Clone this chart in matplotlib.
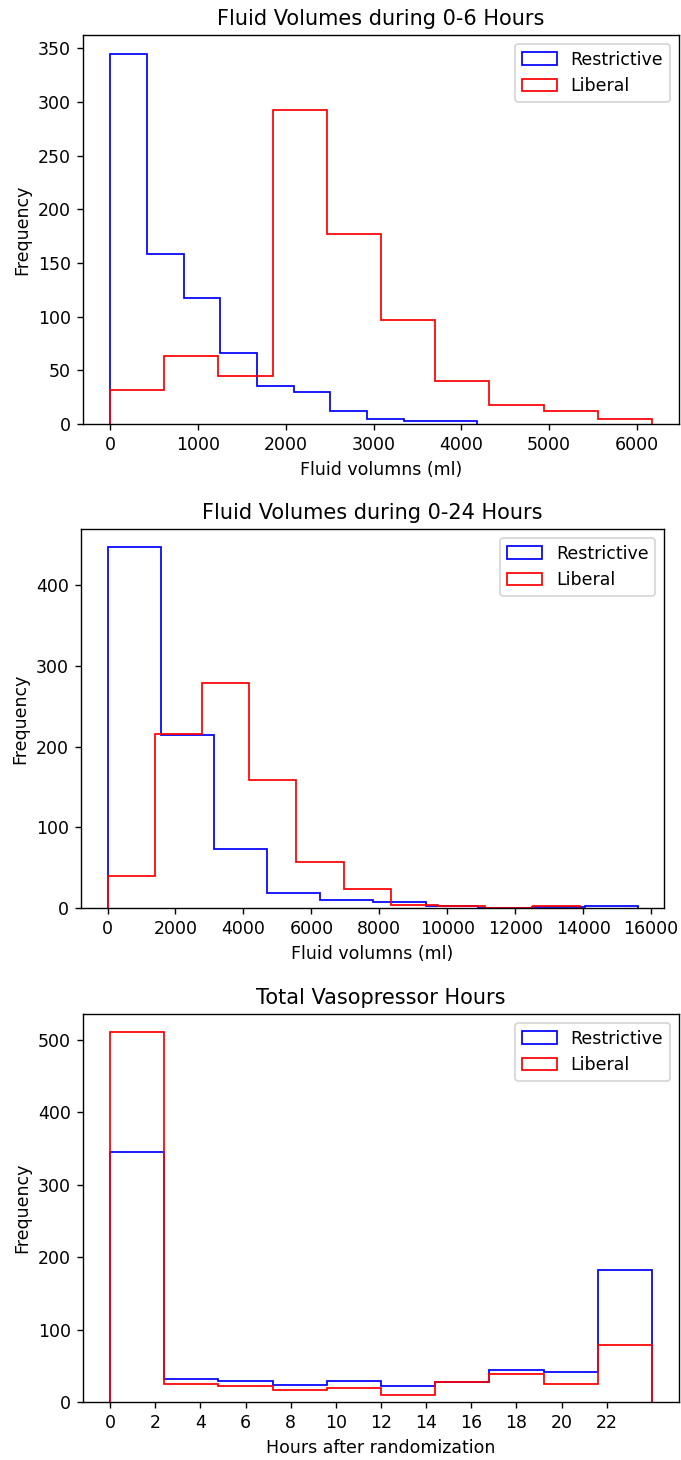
#!/usr/bin/env python

import matplotlib
matplotlib.use("Agg")
import matplotlib.pyplot as plt

# 0-6 hours
edges_6h_restrictive = [0, 418, 836, 1254, 1672, 2090, 2508, 2926, 3344, 3762, 4180]
counts_6h_restrictive = [345, 158, 117, 66, 35, 30, 12, 5, 3, 3]
edges_6h_liberal = [0, 617, 1234, 1851, 2468, 3085, 3702, 4319, 4936, 5553, 6170]
counts_6h_liberal = [32, 63, 45, 292, 177, 97, 40, 18, 12, 5]

# 0-24 hours
edges_24h_restrictive = [0, 1560, 3120, 4680, 6240, 7800, 9360, 10920, 12480, 14040, 15600]
counts_24h_restrictive = [447, 214, 73, 19, 10, 8, 3, 0, 1, 2]
edges_24h_liberal = [0, 1390, 2780, 4170, 5560, 6950, 8340, 9730, 11120, 12510, 13900]
counts_24h_liberal = [40, 216, 279, 158, 57, 23, 4, 2, 0, 2]

# vasopressor hours
edges_vaso = [0, 2.4, 4.8, 7.2, 9.6, 12.0, 14.4, 16.8, 19.2, 21.6, 24.0]
counts_vaso_restrictive = [345, 32, 29, 24, 29, 22, 27, 44, 41, 182]
counts_vaso_liberal = [510, 25, 22, 17, 19, 9, 27, 39, 25, 78]
vaso_ticks = [0, 2, 4, 6, 8, 10, 12, 14, 16, 18, 20, 22]

W, H = 681, 1460
DPI = 125


def box(left, top, right, bottom):
    return [left / W, 1 - bottom / H, (right - left) / W, (bottom - top) / H]


def step_hist(ax, edges, counts, color, label):
    ax.hist(edges[:-1], bins=edges, weights=counts, histtype="step",
            color=color, label=label)


def main():
    fig = plt.figure(figsize=(W / DPI, H / DPI), dpi=DPI)

    ax1 = fig.add_axes(box(83, 35, 679, 424))
    step_hist(ax1, edges_6h_restrictive, counts_6h_restrictive, "blue", "Restrictive")
    step_hist(ax1, edges_6h_liberal, counts_6h_liberal, "red", "Liberal")
    ax1.set_title("Fluid Volumes during 0-6 Hours")
    ax1.set_xlabel("Fluid volumns (ml)")
    ax1.set_ylabel("Frequency")
    ax1.legend(loc="upper right")

    ax2 = fig.add_axes(box(81, 529, 664, 908))
    step_hist(ax2, edges_24h_restrictive, counts_24h_restrictive, "blue", "Restrictive")
    step_hist(ax2, edges_24h_liberal, counts_24h_liberal, "red", "Liberal")
    ax2.set_title("Fluid Volumes during 0-24 Hours")
    ax2.set_xlabel("Fluid volumns (ml)")
    ax2.set_ylabel("Frequency")
    ax2.legend(loc="upper right")

    ax3 = fig.add_axes(box(83, 1014, 679, 1402))
    step_hist(ax3, edges_vaso, counts_vaso_restrictive, "blue", "Restrictive")
    step_hist(ax3, edges_vaso, counts_vaso_liberal, "red", "Liberal")
    ax3.set_xticks(vaso_ticks)
    ax3.set_title("Total Vasopressor Hours")
    ax3.set_xlabel("Hours after randomization")
    ax3.set_ylabel("Frequency")
    ax3.legend(loc="upper right")

    fig.savefig("out.png", dpi=DPI)


if __name__ == "__main__":
    main()
